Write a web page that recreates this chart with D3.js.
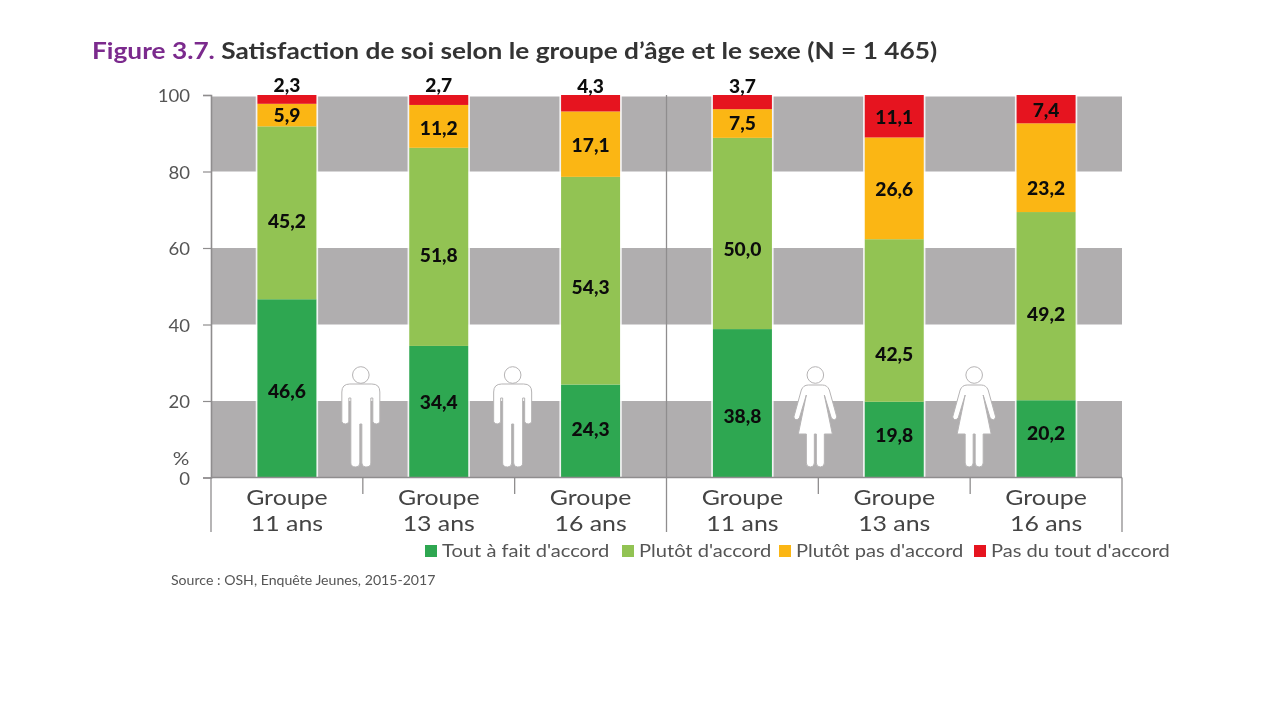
<!DOCTYPE html>
<html><head><meta charset="utf-8">
<script src="https://cdn.jsdelivr.net/npm/d3@7"></script>
<style>html,body{margin:0;background:#fff}svg{display:block;filter:blur(0.45px)}text{font-family:Lato,"Open Sans",sans-serif}</style>
</head><body><div id="c"></div>
<script>
const groups=["Groupe|11 ans","Groupe|13 ans","Groupe|16 ans","Groupe|11 ans","Groupe|13 ans","Groupe|16 ans"];
const keys=["Tout à fait d'accord","Plutôt d'accord","Plutôt pas d'accord","Pas du tout d'accord"];
const toutAFait=[46.6,34.4,24.3,38.8,19.8,20.2];
const plutot=[45.2,51.8,54.3,50.0,42.5,49.2];
const plutotPas=[5.9,11.2,17.1,7.5,26.6,23.2];
const pasDuTout=[2.3,2.7,4.3,3.7,11.1,7.4];
const colors=["#2ea751","#92c353","#fbb614","#e6141f"];
const yTicks=[0,20,40,60,80,100];
const greyRanges=[[0,20],[40,60],[80,100]];
const iconBands=[1,2,4,5];
const iconKind=["m","m","f","f"];
const iconDx=[-2,-2,-3,4];
const labelShift=[[3.6,-9.7,-2,13.7,-4.6,-4.9],[9,9,7,16.5,34.5,8],[0,2,1,0.5,1,21],[-13.4,-14.2,-17.2,-16,1,1]];
const legendX=[425,622,779,974];

const W=1280,H=720,fmt=v=>v.toFixed(1).replace(".",",");
const svg=d3.select("#c").append("svg").attr("width",W).attr("height",H);
const x=d3.scaleBand().domain(d3.range(6)).range([211,1122]);
const y=d3.scaleLinear().domain([0,100]).range([477.5,95]);
const barW=59, axisCol="#8f8d8e", cx=i=>x(i)+x.bandwidth()/2;
const put=(px,py,k,size,fill,txt,anchor="start",weight=400)=>svg.append("text")
  .attr("transform",`translate(${px},${py}) scale(${k},1)`).attr("text-anchor",anchor)
  .attr("font-size",size).attr("fill",fill).attr("font-weight",weight).text(txt);

const title=put(92,59,1.167,22.5,"#333",null,"start",700);
title.append("tspan").attr("fill","#7b2a8d").text("Figure 3.7. ");
title.append("tspan").text("Satisfaction de soi selon le groupe d’âge et le sexe (N = 1 465)");

svg.selectAll("rect.bg").data(greyRanges).join("rect").attr("class","bg")
  .attr("x",x.range()[0]).attr("width",x.range()[1]-x.range()[0])
  .attr("y",d=>y(d[1])+(d[1]==100?1.5:0)).attr("height",d=>y(d[0])-y(d[1])-(d[1]==100?1.5:0)).attr("fill","#b0aeaf");

// silhouettes
const shapes={
 m:"M-11,9 Q-19,9 -19,17 L-19,47 Q-15.5,51 -12,47 L-12,23 L-10,23 L-10,88 Q-10,92 -5,92 Q-1,92 -1,88 L-1,49 L1,49 L1,88 Q1,92 5,92 Q10,92 10,88 L10,23 L12,23 L12,47 Q15.5,51 19,47 L19,17 Q19,9 11,9 Z",
 f:"M-7,10 Q-12,10 -14,15 L-21.5,42 Q-20,47 -16,43 L-9,20 L-17,59 L-9,59 L-9,88 Q-9,92 -5,92 Q-1,92 -1,88 L-1,59 L1,59 L1,88 Q1,92 5,92 Q9,92 9,88 L9,59 L17,59 L9,20 L16,43 Q20,47 21.5,42 L14,15 Q12,10 7,10 Z"
};
const icons=svg.selectAll("g.icon").data(iconBands).join("g").attr("class","icon")
  .attr("transform",(d,i)=>`translate(${x(d)+iconDx[i]},375)`);
icons.append("circle").attr("r",8.3).attr("fill","#fff").attr("stroke","#b5b3b4").attr("stroke-width",1);
icons.append("path").attr("d",(d,i)=>shapes[iconKind[i]]).attr("fill","#fff").attr("stroke","#b5b3b4").attr("stroke-width",1);

// y axis
const yAxis=svg.append("g").attr("transform",`translate(${x.range()[0]},0)`)
  .call(d3.axisLeft(y).tickValues(yTicks).tickSize(8).tickFormat(()=>""));
yAxis.selectAll("path.domain").attr("stroke",axisCol).attr("stroke-width",1.6);
yAxis.selectAll("line").attr("stroke",axisCol).attr("stroke-width",1.2);
yTicks.forEach(t=>put(190,y(t)+7,1.03,18,"#555",t,"end"));
put(181,465,1.15,18,"#555","%","middle");

// stacked bars
const rows=groups.map((g,i)=>({i,[keys[0]]:toutAFait[i],[keys[1]]:plutot[i],[keys[2]]:plutotPas[i],[keys[3]]:pasDuTout[i]}));
const series=d3.stack().keys(keys)(rows);
svg.selectAll("rect.halo").data(rows).join("rect").attr("class","halo")
  .attr("x",d=>cx(d.i)-barW/2-1.7).attr("width",barW+3.4)
  .attr("y",y(100)).attr("height",y(0)-y(100)).attr("fill","#fff").attr("opacity",.85);
const layer=svg.selectAll("g.s").data(series).join("g").attr("class","s").attr("fill",(d,i)=>colors[i]);
layer.selectAll("rect").data(d=>d).join("rect")
  .attr("x",d=>cx(d.data.i)-barW/2).attr("width",barW)
  .attr("y",d=>y(Math.min(d[1],100))).attr("height",d=>y(d[0])-y(Math.min(d[1],100)));

// value labels
series.forEach((s,si)=>s.forEach((d,i)=>{
  put(cx(i),y((d[0]+Math.min(d[1],100))/2)+labelShift[si][i]+6.5,1.04,18.5,"#0c0c0c",fmt(d[1]-d[0]),"middle",900);
}));

// x axis
const base=y(0);
svg.append("line").attr("x1",211).attr("x2",1122).attr("y1",base).attr("y2",base).attr("stroke",axisCol).attr("stroke-width",1.6);
const seps=d3.range(7).map(i=>i<6?x(i):x.range()[1]);
svg.selectAll("line.sep").data(seps).join("line").attr("class","sep")
  .attr("x1",d=>d).attr("x2",d=>d).attr("y1",base)
  .attr("y2",(d,i)=>(i==0||i==3||i==6)?532:494).attr("stroke",axisCol).attr("stroke-width",1.3);
svg.append("line").attr("x1",x(3)).attr("x2",x(3)).attr("y1",y(100)).attr("y2",base).attr("stroke",axisCol).attr("stroke-width",1.3);
groups.forEach((g,i)=>g.split("|").forEach((t,j)=>put(cx(i),505+j*26,1.157,21.5,"#444",t,"middle")));

// legend
keys.forEach((k,i)=>{
  svg.append("rect").attr("x",legendX[i]).attr("y",545).attr("width",12).attr("height",12).attr("fill",colors[i]);
  put(legendX[i]+17,557,1.15,17.5,"#555",k);
});
put(171,585,1.13,12.5,"#555","Source :  OSH, Enquête Jeunes, 2015-2017");
</script></body></html>
